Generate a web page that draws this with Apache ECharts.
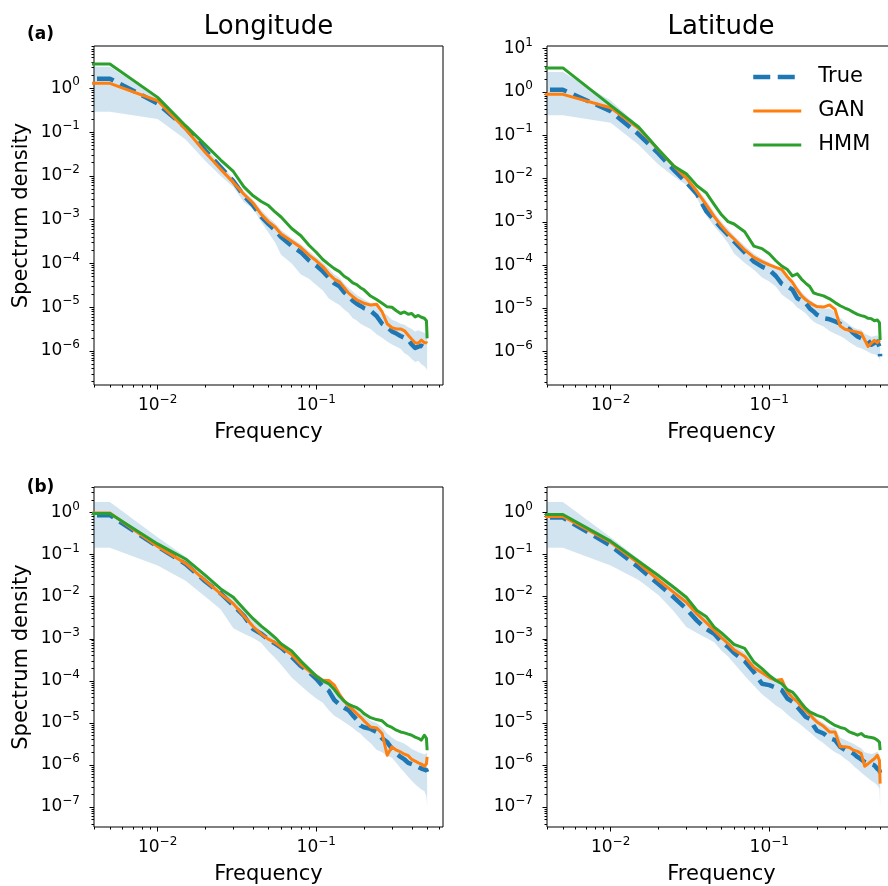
<!DOCTYPE html>
<html><head><meta charset="utf-8">
<script src="https://cdn.jsdelivr.net/npm/echarts@6/dist/echarts.min.js"></script>
<style>html,body{margin:0;padding:0;background:#fff}#c{width:888px;height:886px}</style>
</head><body><div id="c"></div>
<script>
// Frequencies (cycles per step) at which the spectra are read
const FREQ = [0.005,0.01,0.015,0.02,0.025,0.03,0.035,0.04,0.045,0.05,0.055,0.06,0.07,0.08,0.09,0.1,0.11,0.12,0.13,0.14,0.15,0.16,0.17,0.18,0.19,0.2,0.22,0.24,0.26,0.28,0.3,0.32,0.34,0.36,0.38,0.4,0.42,0.44,0.46,0.48,0.495,0.5];
// the f = 0 bin, which matplotlib clips to the left edge of a log axis
const DC_FREQ = 0.001;

// (a) Longitude
const trueLonA = [1.66,0.45,0.126,0.038,0.0158,0.0076,0.0035,0.0021,0.00117,7.9e-4,5.8e-4,4.0e-4,2.5e-4,1.8e-4,1.17e-4,8.9e-5,6.6e-5,4.7e-5,3.5e-5,3.0e-5,2.2e-5,1.78e-5,1.41e-5,1.2e-5,1.07e-5,9.5e-6,8.3e-6,6.3e-6,4.2e-6,3.5e-6,2.8e-6,2.5e-6,2.2e-6,2.0e-6,1.78e-6,1.41e-6,1.17e-6,1.26e-6,1.32e-6,1.2e-6,1.12e-6,1.0e-6];
const ganLonA  = [1.3,0.52,0.117,0.034,0.0141,0.0071,0.0038,0.0024,0.00132,8.9e-4,6.8e-4,4.7e-4,3.2e-4,2.3e-4,1.55e-4,1.15e-4,8.5e-5,5.8e-5,4.4e-5,3.8e-5,2.8e-5,2.1e-5,1.74e-5,1.48e-5,1.35e-5,1.23e-5,1.12e-5,1.17e-5,7.9e-6,4.2e-6,3.4e-6,3.2e-6,3.2e-6,2.9e-6,2.3e-6,1.86e-6,1.55e-6,1.5e-6,1.78e-6,1.55e-6,1.55e-6,1.5e-6];
const hmmLonA  = [3.6,0.62,0.14,0.051,0.023,0.0126,0.0056,0.0035,0.0026,0.0021,0.0015,0.00115,6.3e-4,4.3e-4,2.6e-4,1.8e-4,1.23e-4,9.5e-5,7.6e-5,6.5e-5,5.1e-5,4.4e-5,3.6e-5,3.3e-5,2.8e-5,2.5e-5,1.8e-5,1.5e-5,1.23e-5,1.02e-5,1.0e-5,8.3e-6,7.2e-6,7.8e-6,6.9e-6,7.2e-6,6.0e-6,6.5e-6,5.9e-6,5.6e-6,4.9e-6,1.95e-6];
const lowLonA  = [0.29,0.2,0.068,0.022,0.01,0.0056,0.0025,0.00178,8.9e-4,5.0e-4,3.0e-4,1.58e-4,1.0e-4,5.6e-5,4.5e-5,3.2e-5,2.4e-5,1.58e-5,1.32e-5,1.12e-5,8.9e-6,7.4e-6,5.6e-6,5.0e-6,4.2e-6,3.8e-6,3.2e-6,2.4e-6,2.0e-6,1.66e-6,1.41e-6,1.26e-6,1.12e-6,8.9e-7,7.9e-7,6.6e-7,5.6e-7,6.0e-7,5.0e-7,4.5e-7,4.0e-7,3.5e-7];
const upLonA   = [3.1,0.6,0.14,0.045,0.018,0.0089,0.0045,0.0028,0.00166,0.00112,8.3e-4,5.8e-4,3.8e-4,2.75e-4,1.9e-4,1.38e-4,1.05e-4,7.6e-5,5.6e-5,4.7e-5,3.5e-5,2.75e-5,2.3e-5,1.9e-5,1.7e-5,1.5e-5,1.26e-5,1.05e-5,7.9e-6,6.6e-6,5.2e-6,4.7e-6,4.2e-6,4.0e-6,3.5e-6,3.2e-6,2.8e-6,3.0e-6,2.8e-6,2.6e-6,2.4e-6,2.0e-6];

// (a) Latitude
const trueLatA = [1.12,0.36,0.105,0.038,0.0158,0.0081,0.0044,0.00178,0.0011,7.1e-4,5.0e-4,3.5e-4,1.95e-4,1.2e-4,9.2e-5,7.8e-5,5.6e-5,3.7e-5,3.2e-5,2.7e-5,1.72e-5,1.51e-5,1.32e-5,1.0e-5,8.5e-6,7.1e-6,5.9e-6,5.6e-6,5.0e-6,4.4e-6,3.8e-6,3.3e-6,2.66e-6,2.24e-6,2.04e-6,1.95e-6,1.82e-6,1.45e-6,1.58e-6,1.7e-6,1.32e-6,7.8e-7];
const ganLatA  = [0.88,0.43,0.145,0.046,0.0195,0.0102,0.005,0.0025,0.00132,8.0e-4,5.4e-4,4.0e-4,2.24e-4,1.51e-4,1.2e-4,1.01e-4,8.9e-5,7.9e-5,5.4e-5,4.0e-5,2.66e-5,1.95e-5,1.58e-5,1.36e-5,1.2e-5,1.1e-5,1.07e-5,1.2e-5,9.5e-6,3.9e-6,3.3e-6,3.1e-6,2.95e-6,2.8e-6,2.66e-6,1.86e-6,1.32e-6,1.57e-6,1.82e-6,1.62e-6,1.82e-6,1.86e-6];
const hmmLatA  = [3.58,0.49,0.155,0.047,0.0195,0.0128,0.0068,0.0047,0.0025,0.00145,0.00101,8.9e-4,5.9e-4,2.75e-4,2.4e-4,1.82e-4,1.26e-4,9.5e-5,7.9e-5,5.6e-5,6.3e-5,4.7e-5,3.8e-5,3.2e-5,2.3e-5,2.14e-5,1.95e-5,1.66e-5,1.36e-5,1.15e-5,1.02e-5,9.2e-6,8.1e-6,7.3e-6,6.8e-6,6.5e-6,5.9e-6,5.8e-6,5.2e-6,5.4e-6,4.7e-6,1.86e-6];
const lowLatA  = [0.29,0.195,0.06,0.021,0.0112,0.0071,0.0035,0.0014,7.9e-4,5.0e-4,3.2e-4,1.86e-4,1.12e-4,7.8e-5,5.2e-5,4.2e-5,3.2e-5,2.1e-5,1.66e-5,1.38e-5,1.05e-5,9.1e-6,7.6e-6,6.0e-6,5.0e-6,4.4e-6,3.8e-6,3.0e-6,2.6e-6,2.3e-6,2.0e-6,1.66e-6,1.45e-6,1.26e-6,1.2e-6,1.1e-6,1.0e-6,8.9e-7,8.7e-7,8.3e-7,7.1e-7,5.6e-7];
const upLatA   = [2.9,0.63,0.166,0.052,0.022,0.0117,0.006,0.0032,0.00166,0.001,6.8e-4,4.8e-4,2.8e-4,1.82e-4,1.41e-4,1.15e-4,9.5e-5,7.9e-5,5.6e-5,4.4e-5,3.2e-5,2.4e-5,1.9e-5,1.58e-5,1.38e-5,1.2e-5,1.0e-5,1.0e-5,8.3e-6,6.0e-6,5.0e-6,4.2e-6,3.6e-6,3.3e-6,3.2e-6,2.6e-6,2.4e-6,2.2e-6,2.3e-6,2.4e-6,2.1e-6,1.58e-6];

// (b) Longitude
const trueLonB = [0.87,0.155,0.06,0.023,0.012,0.0062,0.0035,0.0017,0.00132,9.5e-4,7.7e-4,6.2e-4,3.7e-4,2.25e-4,1.62e-4,1.12e-4,7.4e-5,5.8e-5,3.5e-5,2.75e-5,2.3e-5,2.0e-5,1.51e-5,1.2e-5,8.7e-6,7.9e-6,7.2e-6,6.1e-6,4.3e-6,3.5e-6,2.45e-6,1.86e-6,1.55e-6,1.35e-6,1.12e-6,1.05e-6,9.8e-7,8.9e-7,8.2e-7,7.8e-7,7.5e-7,6.8e-7];
const ganLonB  = [0.98,0.156,0.062,0.024,0.0117,0.0068,0.0035,0.00195,0.00129,9.8e-4,8.1e-4,6.4e-4,4.2e-4,2.45e-4,1.72e-4,1.3e-4,1.02e-4,1.02e-4,7.9e-5,4.8e-5,3.3e-5,2.5e-5,2.07e-5,1.66e-5,1.38e-5,1.12e-5,8.0e-6,7.6e-6,5.6e-6,1.7e-6,2.7e-6,2.24e-6,2.04e-6,1.8e-6,1.66e-6,1.35e-6,1.24e-6,1.12e-6,1.05e-6,9.3e-7,1.07e-6,1.55e-6];
const hmmLonB  = [0.95,0.18,0.079,0.032,0.0153,0.0097,0.0051,0.003,0.002,0.00145,0.00107,7.6e-4,5.1e-4,2.95e-4,1.9e-4,1.29e-4,1.0e-4,8.5e-5,6.2e-5,4.3e-5,3.3e-5,2.75e-5,2.5e-5,2.3e-5,2.0e-5,1.66e-5,1.33e-5,1.2e-5,1.12e-5,8.7e-6,7.8e-6,6.7e-6,6.1e-6,5.8e-6,5.4e-6,5.1e-6,4.6e-6,4.3e-6,3.9e-6,5.1e-6,4.3e-6,2.24e-6];
const lowLonB  = [0.145,0.055,0.024,0.01,0.005,0.00178,0.00132,0.00105,7.9e-4,5.0e-4,3.5e-4,2.4e-4,1.2e-4,7.6e-5,5.2e-5,3.8e-5,3.0e-5,2.0e-5,1.48e-5,1.26e-5,1.05e-5,8.9e-6,7.6e-6,6.3e-6,5.5e-6,4.5e-6,3.3e-6,2.3e-6,2.0e-6,1.66e-6,1.48e-6,1.12e-6,8.3e-7,6.6e-7,5.2e-7,4.2e-7,3.5e-7,3.0e-7,2.6e-7,2.4e-7,1.78e-7,1.0e-7];
const upLonB   = [1.78,0.26,0.089,0.035,0.0166,0.0095,0.005,0.0028,0.00178,0.00126,0.001,7.9e-4,5.0e-4,3.0e-4,2.1e-4,1.51e-4,1.17e-4,1.07e-4,7.9e-5,5.2e-5,3.8e-5,3.0e-5,2.5e-5,2.1e-5,1.74e-5,1.45e-5,1.12e-5,1.0e-5,7.9e-6,5.6e-6,4.5e-6,3.8e-6,3.5e-6,3.2e-6,2.8e-6,2.4e-6,2.2e-6,2.0e-6,1.9e-6,1.78e-6,1.9e-6,2.0e-6];

// (b) Latitude
const trueLatB = [0.76,0.164,0.05,0.02,0.0097,0.0051,0.0027,0.00172,0.00132,8.4e-4,6.4e-4,4.6e-4,2.95e-4,1.62e-4,8.5e-5,7.9e-5,6.9e-5,6.0e-5,3.8e-5,3.2e-5,2.4e-5,1.82e-5,1.38e-5,1.26e-5,8.7e-6,6.5e-6,5.6e-6,4.3e-6,3.9e-6,2.7e-6,2.3e-6,2.15e-6,1.86e-6,1.55e-6,1.35e-6,1.17e-6,1.07e-6,1.04e-6,9.8e-7,8.1e-7,7.4e-7,6.5e-7];
const ganLatB  = [0.81,0.197,0.062,0.025,0.0127,0.0074,0.0039,0.00245,0.00158,0.00107,7.7e-4,5.5e-4,3.8e-4,2.07e-4,1.55e-4,1.2e-4,1.02e-4,1.07e-4,5.4e-5,4.0e-5,3.2e-5,2.4e-5,1.93e-5,1.6e-5,1.26e-5,1.05e-5,8.3e-6,6.1e-6,6.1e-6,2.7e-6,2.7e-6,2.6e-6,2.24e-6,2.1e-6,1.86e-6,9.3e-7,1.07e-6,1.24e-6,1.41e-6,1.7e-6,1.29e-6,3.6e-7];
const hmmLatB  = [0.9,0.21,0.07,0.032,0.0168,0.0097,0.0047,0.0034,0.0019,0.00138,0.001,7.4e-4,5.9e-4,2.8e-4,1.95e-4,1.35e-4,1.02e-4,8.5e-5,6.2e-5,5.4e-5,4.0e-5,2.9e-5,2.2e-5,1.82e-5,1.66e-5,1.51e-5,1.33e-5,1.05e-5,8.7e-6,7.8e-6,7.3e-6,6.1e-6,5.6e-6,5.1e-6,5.6e-6,4.8e-6,4.6e-6,4.5e-6,4.3e-6,3.9e-6,3.5e-6,2.24e-6];
const lowLatB  = [0.145,0.055,0.025,0.011,0.0045,0.0019,0.00138,0.00105,8.3e-4,5.2e-4,3.8e-4,2.6e-4,1.32e-4,7.6e-5,4.8e-5,3.5e-5,2.6e-5,2.1e-5,1.58e-5,1.26e-5,1.05e-5,8.7e-6,7.1e-6,6.0e-6,5.0e-6,4.2e-6,3.3e-6,2.5e-6,2.0e-6,1.74e-6,1.41e-6,1.2e-6,9.5e-7,7.9e-7,6.6e-7,5.6e-7,4.8e-7,4.2e-7,3.8e-7,3.3e-7,2.8e-7,1.0e-7];
const upLatB   = [1.78,0.26,0.079,0.033,0.0174,0.0095,0.005,0.0032,0.0019,0.00132,9.5e-4,7.1e-4,4.8e-4,2.6e-4,1.9e-4,1.45e-4,1.15e-4,1.1e-4,6.3e-5,4.8e-5,3.6e-5,2.75e-5,2.2e-5,1.82e-5,1.51e-5,1.26e-5,1.0e-5,7.9e-6,7.6e-6,4.5e-6,4.0e-6,3.5e-6,3.2e-6,2.8e-6,2.5e-6,2.0e-6,1.9e-6,1.82e-6,1.9e-6,2.1e-6,1.78e-6,1.41e-6];

const LEGEND = ['True','GAN','HMM'];
const COLORS = {True:'#1f77b4', GAN:'#ff7f0e', HMM:'#2ca02c'};
const FONT = '"DejaVu Sans", sans-serif';
const X_MIN = 0.00397, X_MAX = 0.6295;
const TRUE_DASH = [17, 7.5];

const panels = [
  {left:94,  top:46,  width:349, height:339, yMin:1.675e-7, yMax:9.25, yName:true,  T:trueLonA, G:ganLonA, H:hmmLonA, lo:lowLonA, hi:upLonA},
  {left:547, top:46,  width:349, height:339, yMin:1.70e-7,  yMax:11.5, yName:false, T:trueLatA, G:ganLatA, H:hmmLatA, lo:lowLatA, hi:upLatA},
  {left:94,  top:487, width:349, height:340, yMin:3.35e-8,  yMax:4.06, yName:true,  T:trueLonB, G:ganLonB, H:hmmLonB, lo:lowLonB, hi:upLonB},
  {left:547, top:487, width:349, height:340, yMin:3.35e-8,  yMax:4.06, yName:false, T:trueLatB, G:ganLatB, H:hmmLatB, lo:lowLatB, hi:upLatB}
];

function pts(arr){ return [[DC_FREQ, arr[0]]].concat(arr.map((v,k)=>[FREQ[k], v])); }
function decades(lo, hi){ const out=[]; for(let k=-9;k<=2;k++){ const v=Number('1e'+k); if(v>=lo&&v<=hi) out.push(v);} return out; }
function minors(lo, hi){ const out=[]; for(let k=-9;k<=2;k++){ for(let m=2;m<=9;m++){ const v=Number(m+'e'+k); if(v>=lo&&v<=hi) out.push(v);} } return out; }
const rich = {
  b:{fontSize:17, lineHeight:24, fontFamily:FONT, color:'#000'},
  s:{fontSize:12, lineHeight:13, verticalAlign:'top', fontFamily:FONT, color:'#000'}
};
function fmt(v){ const e=Math.round(Math.log10(v)); return '{b|10}{s|'+(e<0?'\u2212':'')+Math.abs(e)+'}'; }
const tickLine = {color:'#000', width:1};

function bandRenderer(lo, hi){
  return function(params, api){
    const upper = pts(hi).map(d => api.coord(d));
    const lower = pts(lo).map(d => api.coord(d)).reverse();
    const cs = params.coordSys;
    return {type:'polygon', shape:{points: upper.concat(lower)},
      style:{fill:'rgba(31,119,180,0.2)', stroke:null},
      clipPath:{type:'rect', shape:{x:cs.x, y:cs.y, width:cs.width, height:cs.height}}};
  };
}

const grid=[], xAxis=[], yAxis=[], series=[];
panels.forEach((p,i)=>{
  grid.push({left:p.left, top:p.top, width:p.width, height:p.height, show:true, borderColor:'#000', borderWidth:1,
             backgroundColor:'transparent', containLabel:false, outerBoundsMode:'none'});
  const xMaj = decades(X_MIN, X_MAX), xMin = minors(X_MIN, X_MAX);
  const yMaj = decades(p.yMin, p.yMax), yMin = minors(p.yMin, p.yMax);
  xAxis.push({type:'log', gridIndex:i, min:X_MIN, max:X_MAX, position:'bottom',
    axisLine:{show:false}, splitLine:{show:false}, minorTick:{show:false},
    axisTick:{show:true, length:4.5, lineStyle:tickLine, customValues:xMaj},
    axisLabel:{show:true, customValues:xMaj, formatter:fmt, rich:rich, margin:9},
    name:'Frequency', nameLocation:'middle', nameGap:37,
    nameTextStyle:{fontSize:21, color:'#000', fontFamily:FONT}});
  xAxis.push({type:'log', gridIndex:i, min:X_MIN, max:X_MAX, position:'bottom',
    axisLine:{show:false}, splitLine:{show:false}, axisLabel:{show:false},
    axisTick:{show:true, length:2.5, lineStyle:tickLine, customValues:xMin}});
  yAxis.push({type:'log', gridIndex:i, min:p.yMin, max:p.yMax, position:'left',
    axisLine:{show:false}, splitLine:{show:false}, minorTick:{show:false},
    axisTick:{show:true, length:4.5, lineStyle:tickLine, customValues:yMaj},
    axisLabel:{show:true, customValues:yMaj, formatter:fmt, rich:rich, margin:14},
    name:p.yName?'Spectrum density':'', nameLocation:'middle', nameGap:62,
    nameTextStyle:{fontSize:21, color:'#000', fontFamily:FONT}});
  yAxis.push({type:'log', gridIndex:i, min:p.yMin, max:p.yMax, position:'left',
    axisLine:{show:false}, splitLine:{show:false}, axisLabel:{show:false},
    axisTick:{show:true, length:2.5, lineStyle:tickLine, customValues:yMin}});
  const ax = {xAxisIndex:2*i, yAxisIndex:2*i};
  series.push(Object.assign({type:'custom', name:'band', data:[[FREQ[0], p.lo[0]]], encode:{x:0, y:1},
    renderItem:bandRenderer(p.lo, p.hi), clip:true, silent:true, z:1}, ax));
  series.push(Object.assign({type:'line', name:'True', data:pts(p.T), symbol:'none', z:2,
    lineStyle:{color:COLORS.True, width:4.5, type:TRUE_DASH, cap:'butt', join:'round'}, itemStyle:{color:COLORS.True}}, ax));
  series.push(Object.assign({type:'line', name:'GAN', data:pts(p.G), symbol:'none', z:3,
    lineStyle:{color:COLORS.GAN, width:3, join:'round'}, itemStyle:{color:COLORS.GAN}}, ax));
  series.push(Object.assign({type:'line', name:'HMM', data:pts(p.H), symbol:'none', z:4,
    lineStyle:{color:COLORS.HMM, width:3, join:'round'}, itemStyle:{color:COLORS.HMM}}, ax));
});

const txt = (text, x, y, font) => ({type:'text', x:x, y:y, silent:true,
  style:{text:text, font:font, fill:'#000', align:'center', verticalAlign:'middle'}});

const chart = echarts.init(document.getElementById('c'), null, {renderer:'canvas'});
chart.setOption({
  animation:false,
  backgroundColor:'#fff',
  textStyle:{fontFamily:FONT, color:'#000'},
  grid:grid, xAxis:xAxis, yAxis:yAxis, series:series,
  legend:{
    data:[
      {name:'True', lineStyle:{color:COLORS.True, width:4.5, type:TRUE_DASH, cap:'butt'}},
      {name:'GAN', lineStyle:{color:COLORS.GAN, width:3}},
      {name:'HMM', lineStyle:{color:COLORS.HMM, width:3}}
    ],
    orient:'vertical', left:746, top:60, itemWidth:48, itemHeight:14, itemGap:10,
    itemStyle:{opacity:0}, selectedMode:false,
    textStyle:{fontSize:21, color:'#000', fontFamily:FONT, lineHeight:24, padding:[0,0,0,12]}},
  graphic:[
    txt('Longitude', 268.5, 27, '26px "DejaVu Sans"'),
    txt('Latitude', 721, 27, '26px "DejaVu Sans"'),
    txt('(a)', 40.5, 35, 'bold 17px "DejaVu Sans"'),
    txt('(b)', 40.5, 488, 'bold 17px "DejaVu Sans"')
  ]
});
</script>
</body></html>
